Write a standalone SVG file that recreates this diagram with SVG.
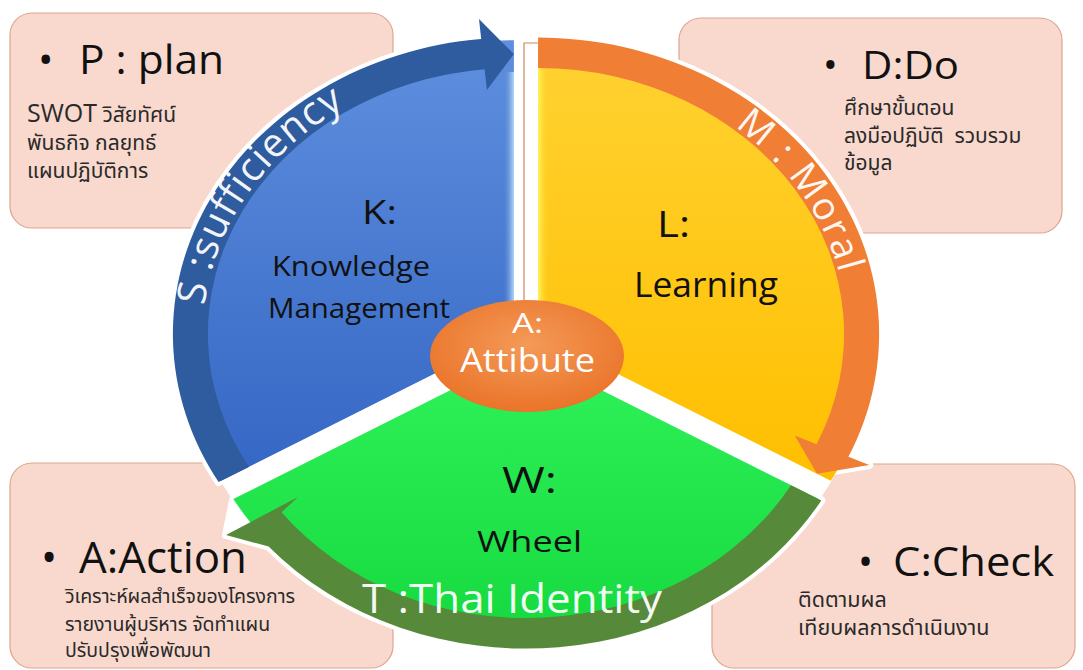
<svg xmlns="http://www.w3.org/2000/svg" width="1083" height="670" viewBox="0 0 1083 670">
<style>
.box{fill:#F9D9CE;stroke:#DDA68F;stroke-width:1.2}
.head{font-family:"Open Sans","Liberation Sans",sans-serif;fill:#111}
.th{font-family:"Noto Sans Thai","Noto Sans","Liberation Sans",sans-serif;font-size:21px;fill:#2a2a2a;white-space:pre}
.lbl{font-family:"Open Sans","Liberation Sans",sans-serif;fill:#111}
.wl{font-family:"Open Sans","Liberation Sans",sans-serif;fill:#fff}
.arc{font-family:"Open Sans","Liberation Sans",sans-serif;fill:#fff;fill-opacity:0.95}
.halo{fill:#fff;stroke:#fff;stroke-width:8;stroke-linejoin:round}
</style>
<defs>
<linearGradient id="gBlue" x1="0" y1="0" x2="0" y2="1"><stop offset="0" stop-color="#5F8FDE"/><stop offset="1" stop-color="#3466C4"/></linearGradient>
<linearGradient id="gYel" x1="0" y1="0" x2="0" y2="1"><stop offset="0" stop-color="#FFD232"/><stop offset="1" stop-color="#FFBF00"/></linearGradient>
<linearGradient id="gGrn" x1="0" y1="0" x2="0" y2="1"><stop offset="0" stop-color="#30F25A"/><stop offset="1" stop-color="#14D93E"/></linearGradient>
<linearGradient id="gBlueEdge" x1="0" y1="0" x2="1" y2="0"><stop offset="0" stop-color="#4F7FD2" stop-opacity="0"/><stop offset="1" stop-color="#B5DAF7"/></linearGradient>
<linearGradient id="gYelEdge" x1="0" y1="0" x2="1" y2="0"><stop offset="0" stop-color="#FFF45A"/><stop offset="1" stop-color="#FFCB20" stop-opacity="0"/></linearGradient>
<radialGradient id="gOrg" cx="0.5" cy="0.4" r="0.6"><stop offset="0" stop-color="#F49A58"/><stop offset="1" stop-color="#EA7429"/></radialGradient>
<path id="pS" d="M 204.6 305.6 A 311 270.3 0 0 1 486.8 64.6"/>
<path id="pM" d="M 734.6 126.7 A 309 268.5 0 0 1 842.4 380.5"/>
</defs>

<g id="box-plan">
<rect class="box" x="10" y="13" width="383" height="215" rx="22"/>
<text class="head" font-size="41"><tspan x="38" y="74">•</tspan><tspan x="79" y="74" textLength="145" lengthAdjust="spacingAndGlyphs">P : plan</tspan></text>
<text class="th" x="27" y="122"><tspan font-family="Open Sans, sans-serif" font-size="25">SWOT</tspan> วิสัยทัศน์</text>
<text class="th" x="27" y="150">พันธกิจ กลยุทธ์</text>
<text class="th" x="27" y="178">แผนปฏิบัติการ</text>
</g>
<g id="box-do">
<rect class="box" x="679" y="18" width="383" height="215" rx="22"/>
<text class="head" font-size="39"><tspan x="823" y="79">•</tspan><tspan x="862" y="79" textLength="97" lengthAdjust="spacingAndGlyphs">D:Do</tspan></text>
<text class="th" x="844" y="115" font-size="20">ศึกษาขั้นตอน</text>
<text class="th" x="844" y="143" font-size="20">ลงมือปฏิบัติ  รวบรวม</text>
<text class="th" x="844" y="170" font-size="20">ข้อมูล</text>
</g>
<g id="box-action">
<rect class="box" x="10" y="463" width="383" height="205" rx="22"/>
<text class="head" font-size="43"><tspan x="41" y="573">•</tspan><tspan x="79" y="573" textLength="168" lengthAdjust="spacingAndGlyphs">A:Action</tspan></text>
<text class="th" x="65" y="603" style="font-size:19.5px">วิเคราะห์ผลสำเร็จของโครงการ</text>
<text class="th" x="65" y="631" style="font-size:19.5px">รายงานผู้บริหาร จัดทำแผน</text>
<text class="th" x="65" y="657" style="font-size:19.5px">ปรับปรุงเพื่อพัฒนา</text>
</g>
<g id="box-check">
<rect class="box" x="712" y="464" width="363" height="204" rx="22"/>
<text class="head" font-size="40"><tspan x="858" y="576">•</tspan><tspan x="893" y="576" textLength="161" lengthAdjust="spacingAndGlyphs">C:Check</tspan></text>
<text class="th" x="798" y="607" style="font-size:21.5px">ติดตามผล</text>
<text class="th" x="798" y="635" style="font-size:21.5px">เทียบผลการดำเนินงาน</text>
</g>

<g id="wheel-backdrop">
<ellipse cx="526" cy="343" rx="344" ry="300" fill="#fff"/>
<path class="halo" d="M 513.9 333.9 L 218.6 482.1 A 341 296.3 0 0 1 513.9 37.6 Z"/>
<path class="halo" d="M 538.1 333.9 L 538.1 37.6 A 341 296.3 0 0 1 848.4 456.8 L 869.3 465.1 L 817 473.8 Z"/>
<path class="halo" d="M 526 352.2 L 821.3 500.4 A 341 296.3 0 0 1 268.6 546.6 L 226 535 L 233.3 499.1 Z"/>
</g>

<g id="sector-k">
<path d="M 513.9 333.9 L 221.2 480.8 A 338 293.7 0 0 1 513.9 40.2 Z" fill="url(#gBlue)"/>
<path d="M 503 72 L 513.9 72 L 513.9 333.9 L 503 339 Z" fill="url(#gBlueEdge)"/>
</g>
<g id="sector-l">
<path d="M 538.1 333.9 L 538.1 40.2 A 338 293.7 0 0 1 830.8 480.8 Z" fill="url(#gYel)"/>
<path d="M 538.1 68 L 549 68 L 549 339 L 538.1 333.9 Z" fill="url(#gYelEdge)"/>
<path d="M 538 43 L 524 43 L 524 330" fill="none" stroke="#C98A5A" stroke-width="1.2"/>
</g>
<g id="sector-w">
<path d="M 526 352.2 L 818.7 499.1 A 338 293.7 0 0 1 233.3 499.1 Z" fill="url(#gGrn)"/>
</g>

<g id="connectors">
<path id="arrow-s" d="M 218.6 482.1 A 341 296.3 0 0 1 481.2 39 L 479 19 L 513.9 54.1 L 486.9 90 L 484.6 69.2 A 306 265.9 0 0 0 248.9 466.9 Z" fill="#2F5B9F"/>
<path id="arrow-m" d="M 538.1 37.6 A 341 296.3 0 0 1 848.4 456.8 L 869.3 465.1 L 817 473.8 L 794.7 435.5 L 816.5 444.2 A 306 265.9 0 0 0 538.1 68 Z" fill="#F07E35"/>
<path id="arrow-t" d="M 821.3 500.4 A 341 296.3 0 0 1 268.6 546.6 L 226 535 L 298 497 L 281.6 512.2 A 306 265.9 0 0 0 791 485.2 Z" fill="#56893A"/>
</g>

<g id="arc-labels">
<text class="arc" font-size="40" letter-spacing="1"><textPath href="#pS">S :sufficiency</textPath></text>
<text class="arc" font-size="38" letter-spacing="2"><textPath href="#pM">M : Moral</textPath></text>
<text class="arc" x="362" y="613" font-size="40" textLength="300" lengthAdjust="spacingAndGlyphs">T :Thai Identity</text>
</g>

<g id="label-k">
<text class="lbl" x="362" y="224" font-size="32" textLength="35" lengthAdjust="spacingAndGlyphs">K:</text>
<text class="lbl" x="272" y="276" font-size="28" textLength="158" lengthAdjust="spacingAndGlyphs">Knowledge</text>
<text class="lbl" x="268" y="318" font-size="28" textLength="182" lengthAdjust="spacingAndGlyphs">Management</text>
</g>
<g id="label-l">
<text class="lbl" x="657" y="237" font-size="36" textLength="33" lengthAdjust="spacingAndGlyphs">L:</text>
<text class="lbl" x="634" y="297" font-size="34" textLength="144" lengthAdjust="spacingAndGlyphs">Learning</text>
</g>
<g id="label-w">
<text class="lbl" x="502" y="493" font-size="36" textLength="55" lengthAdjust="spacingAndGlyphs">W:</text>
<text class="lbl" x="477" y="552" font-size="30" textLength="105" lengthAdjust="spacingAndGlyphs">Wheel</text>
</g>
<g id="node-a">
<ellipse cx="527" cy="356" rx="97" ry="56" fill="url(#gOrg)"/>
<text class="wl" x="512" y="333" font-size="28" textLength="31" lengthAdjust="spacingAndGlyphs">A:</text>
<text class="wl" x="460" y="372" font-size="33" textLength="135" lengthAdjust="spacingAndGlyphs">Attibute</text>
</g>
</svg>
